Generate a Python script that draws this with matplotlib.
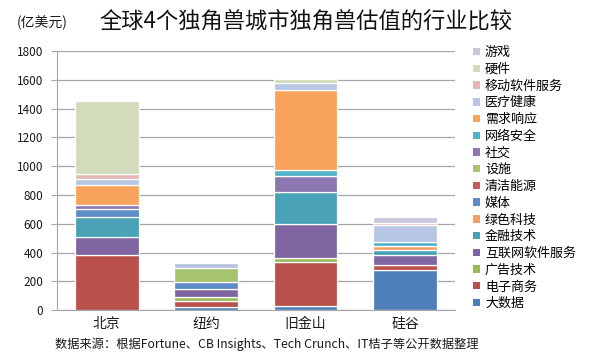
import matplotlib
matplotlib.use("Agg")
import matplotlib.pyplot as plt
from matplotlib.patches import Patch
import numpy as np

plt.rcParams["font.family"] = ["Noto Sans CJK SC", "DejaVu Sans"]

cities = ["北京", "纽约", "旧金山", "硅谷"]
industries = ["大数据", "电子商务", "广告技术", "互联网软件服务", "金融技术", "绿色科技",
              "媒体", "清洁能源", "设施", "社交", "网络安全", "需求响应",
              "医疗健康", "移动软件服务", "硬件", "游戏"]

# values in 亿美元, same order as industries (bottom to top)
beijing = [0, 385, 0, 125, 140, 0, 50, 0, 0, 30, 0, 140, 40, 35, 505, 0]
newyork = [23, 42, 25, 58, 0, 0, 47, 0, 97, 0, 0, 0, 35, 0, 0, 0]
sanfrancisco = [28, 308, 25, 235, 221, 0, 0, 0, 0, 116, 40, 558, 44, 0, 27, 0]
siliconvalley = [280, 30, 0, 76, 31, 28, 0, 0, 0, 0, 25, 0, 120, 18, 0, 40]

colors = ["#4f7fb8", "#b9504c", "#9bbb59", "#7f65a1", "#4aa2b8", "#f2a166",
          "#5d8cc6", "#c55a58", "#a6c36e", "#8c77b0", "#52b3c9", "#f7a35b",
          "#b7c6e2", "#e4b8b8", "#d2dcbd", "#cdc4dd"]

values = np.array([beijing, newyork, sanfrancisco, siliconvalley], dtype=float)

fig = plt.figure(figsize=(6.0, 3.54), dpi=100)
ax = fig.add_axes([0.095, 0.124, 0.663, 0.732])

x = np.arange(len(cities))
bottom = np.zeros(len(cities))
for j, name in enumerate(industries):
    v = values[:, j]
    mask = v > 0
    ax.bar(x[mask], v[mask], bottom=bottom[mask], width=0.64, color=colors[j],
           edgecolor="white", linewidth=0.9, zorder=3)
    bottom += v

ax.set_xlim(-0.5, 3.5)
ax.set_ylim(0, 1800)
ax.set_yticks(range(0, 1801, 200))
ax.set_xticks(x, cities)
ax.grid(axis="y", color="#a6a6a6", linewidth=0.9, zorder=0)
for s in ["top", "right"]:
    ax.spines[s].set_visible(False)
ax.spines["left"].set_color("#a6a6a6")
ax.spines["bottom"].set_color("#a6a6a6")
ax.tick_params(axis="y", length=4, color="#a6a6a6", labelsize=8.5, labelcolor="#1a1a1a", pad=6)
ax.tick_params(axis="x", length=0, labelsize=10, labelcolor="#1a1a1a", pad=5)

handles = [Patch(facecolor=colors[j], edgecolor="none") for j in range(len(industries))][::-1]
fig.legend(handles, industries[::-1], loc="upper left", bbox_to_anchor=(0.780, 0.884),
           frameon=False, fontsize=9.4, handlelength=0.5, handleheight=0.5,
           handletextpad=0.4, labelspacing=0.285, borderaxespad=0)

fig.text(0.028, 0.935, "(亿美元)", fontsize=10, color="#1a1a1a", va="center")
fig.text(0.51, 0.94, "全球4个独角兽城市独角兽估值的行业比较", fontsize=16,
         color="#111111", ha="center", va="center")
fig.text(0.092, 0.028, "数据来源：根据Fortune、CB Insights、Tech Crunch、IT桔子等公开数据整理",
         fontsize=8.8, color="#1a1a1a", va="center")

fig.savefig("out.png", dpi=100)
